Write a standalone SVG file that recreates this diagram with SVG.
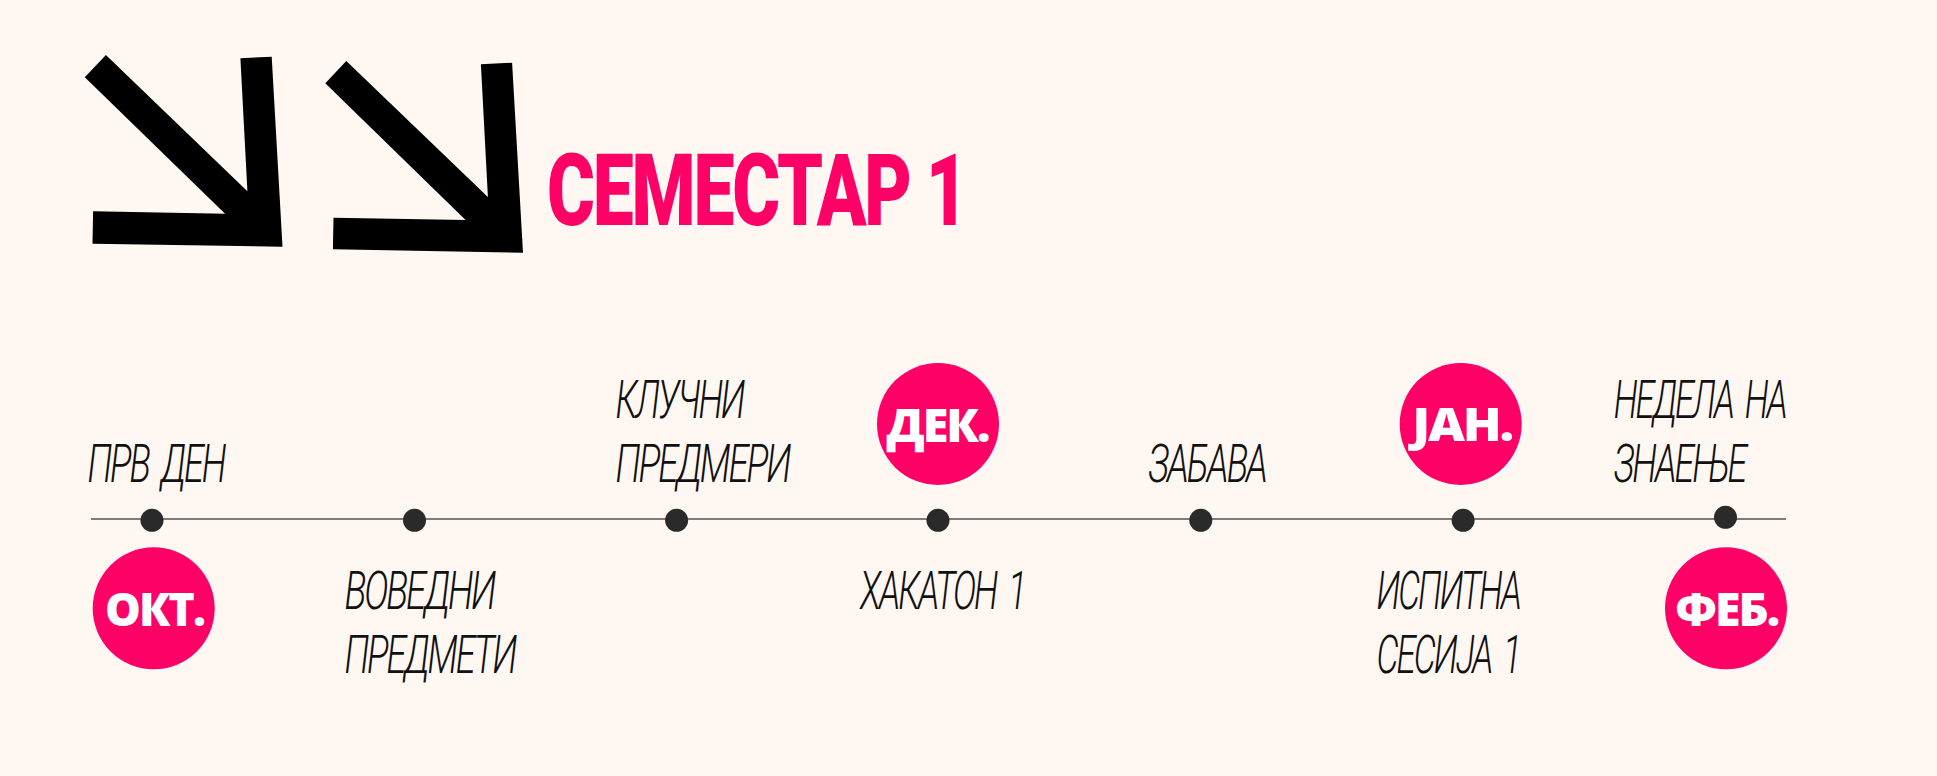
<svg xmlns="http://www.w3.org/2000/svg" width="1937" height="776" viewBox="0 0 1937 776">
<style>
.bg{fill:#FEF7F2}
.arrow{fill:#000}
.title{fill:#FF0066;font-family:"Roboto","Liberation Sans",sans-serif;font-weight:900;font-size:100px;letter-spacing:-3px}
.dot{fill:#2A2A2A}
.month{fill:#FF0066}
.mtext{fill:#fff;font-family:"Open Sans","Liberation Sans",sans-serif;font-weight:800;font-size:46px;letter-spacing:-2px}
.lbl{fill:#111;font-family:"Roboto","Liberation Sans Narrow",sans-serif;font-weight:300;font-style:italic;font-size:53px;letter-spacing:-3px;word-spacing:8px}
</style>
<rect class="bg" x="0" y="0" width="1937" height="776"/>
<g id="arrows">
<polygon class="arrow" points="105.9,55 84.8,77.3 225.1,213.7 93.1,211.3 92.5,243.7 282.5,246.7 271.7,56.7 240.4,58.3 247.4,191.3"/>
<polygon class="arrow" points="346.3,61 325.3,83.3 465.6,220 333.5,217.7 332.9,249.3 523,252.7 512.1,62.7 480.9,64.3 487.9,197"/>
</g>
<g id="title"><text class="title" x="547" y="225" textLength="419" lengthAdjust="spacingAndGlyphs">СЕМЕСТАР 1</text></g>
<g id="connectors">
<line x1="91" y1="519" x2="1786" y2="519" stroke="#555" stroke-width="1.5"/>
</g>
<g id="dots">
<circle class="dot" cx="152" cy="520.3" r="11.5"/>
<circle class="dot" cx="414.5" cy="520.3" r="11.5"/>
<circle class="dot" cx="676.6" cy="520.3" r="11.5"/>
<circle class="dot" cx="938" cy="520.3" r="11.5"/>
<circle class="dot" cx="1200.8" cy="520.3" r="11.5"/>
<circle class="dot" cx="1463.1" cy="520.3" r="11.5"/>
<circle class="dot" cx="1725.5" cy="517.3" r="11.5"/>
</g>
<g id="okt"><circle class="month" cx="153.7" cy="608.3" r="61"/><text class="mtext" x="105" y="626" textLength="99" lengthAdjust="spacingAndGlyphs">ОКТ.</text></g>
<g id="dek"><circle class="month" cx="938" cy="424" r="61"/><text class="mtext" x="886.5" y="441.5" textLength="102" lengthAdjust="spacingAndGlyphs">ДЕК.</text></g>
<g id="jan"><circle class="month" cx="1460.7" cy="424" r="61"/><text class="mtext" x="1412.3" y="441" textLength="99.8" lengthAdjust="spacingAndGlyphs">JAH.</text></g>
<g id="feb"><circle class="month" cx="1726" cy="608.3" r="61"/><text class="mtext" x="1675.3" y="626" textLength="102.8" lengthAdjust="spacingAndGlyphs">ФЕБ.</text></g>
<g id="prv-den"><text class="lbl" x="87.4" y="481.7" textLength="137" lengthAdjust="spacingAndGlyphs">ПРВ ДЕН</text></g>
<g id="voveden"><text class="lbl" x="344.4" y="609.3" textLength="150" lengthAdjust="spacingAndGlyphs">ВОВЕДНИ</text><text class="lbl" x="344.4" y="672.7" textLength="171" lengthAdjust="spacingAndGlyphs">ПРЕДМЕТИ</text></g>
<g id="kluchni"><text class="lbl" x="615.4" y="417.7" textLength="128" lengthAdjust="spacingAndGlyphs">КЛУЧНИ</text><text class="lbl" x="615.4" y="481.7" textLength="174" lengthAdjust="spacingAndGlyphs">ПРЕДМЕРИ</text></g>
<g id="hakaton"><text class="lbl" x="860" y="609.3" textLength="165" lengthAdjust="spacingAndGlyphs">ХАКАТОН 1</text></g>
<g id="zabava"><text class="lbl" x="1148.2" y="481.7" textLength="117.7" lengthAdjust="spacingAndGlyphs">ЗАБАВА</text></g>
<g id="ispitna"><text class="lbl" x="1376.5" y="609.3" textLength="143.4" lengthAdjust="spacingAndGlyphs">ИСПИТНА</text><text class="lbl" x="1376.5" y="672.7" textLength="143.4" lengthAdjust="spacingAndGlyphs">СЕСИЈА 1</text></g>
<g id="nedela"><text class="lbl" x="1613.7" y="417.7" textLength="172.1" lengthAdjust="spacingAndGlyphs">НЕДЕЛА НА</text><text class="lbl" x="1613.7" y="481.7" textLength="131.5" lengthAdjust="spacingAndGlyphs">ЗНАЕЊЕ</text></g>
</svg>
